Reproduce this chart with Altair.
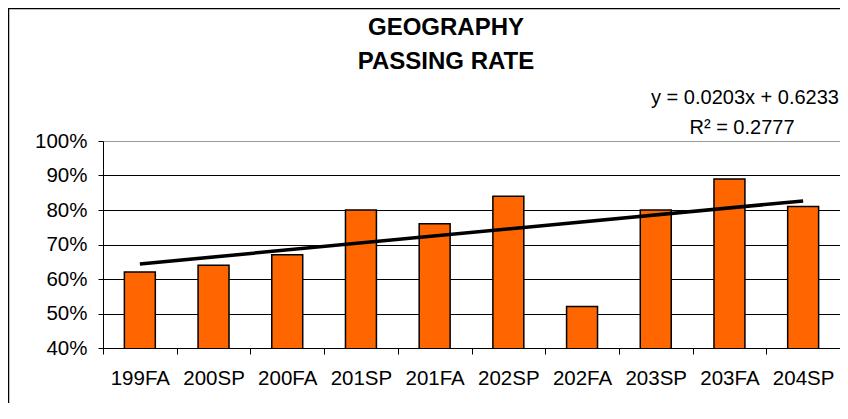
import json
import altair as alt
import pandas as pd

terms = ["199FA", "200SP", "200FA", "201SP", "201FA", "202SP", "202FA", "203SP", "203FA", "204SP"]
rates = [0.62, 0.64, 0.67, 0.80, 0.76, 0.84, 0.52, 0.80, 0.89, 0.81]
y_ticks = [0.4, 0.5, 0.6, 0.7, 0.8, 0.9, 1.0]
equation = "y = 0.0203x + 0.6233"
r_squared = "R\u00b2 = 0.2777"
title_lines = ["GEOGRAPHY", "PASSING RATE"]

df = pd.DataFrame({"term": terms, "rate": rates, "idx": list(range(1, len(terms) + 1))})
one = pd.DataFrame({"a": [0]})

FONT = "Liberation Sans"

x_enc = alt.X(
    "term:N",
    sort=terms,
    scale=alt.Scale(paddingInner=0, paddingOuter=0),
    axis=alt.Axis(
        title=None,
        labelAngle=0,
        labelFontSize=20.5,
        labelFont=FONT,
        labelColor="black",
        labelPadding=14,
        labelOverlap=False,
        tickBand="extent",
        tickSize=6,
        tickColor="black",
        domainColor="black",
        grid=False,
    ),
)
y_enc = alt.Y(
    "rate:Q",
    scale=alt.Scale(domain=[0.4, 1.0], zero=False, nice=False),
    axis=alt.Axis(
        title=None,
        values=y_ticks,
        format=".0%",
        labelFontSize=20.5,
        labelFont=FONT,
        labelColor="black",
        labelPadding=11,
        labelOverlap=False,
        tickSize=5,
        tickColor="black",
        domainColor="black",
        grid=True,
        gridColor=alt.condition("datum.value >= 0.999", alt.value("#999999"), alt.value("black")),
        gridWidth=1,
    ),
)

frame = alt.Chart(one).mark_rect(fill=None, stroke="black", strokeWidth=1.5, clip=False).encode(
    x=alt.value(-94.5), x2=alt.value(900), y=alt.value(-132.5), y2=alt.value(400)
)

bars = alt.Chart(df).mark_bar(
    width=alt.RelativeBandSize(0.42), color="#FF6600", stroke="black", strokeWidth=1.5, clip=True
).encode(x=x_enc, y=y_enc)

trend = (
    alt.Chart(df)
    .transform_regression("idx", "rate", method="linear")
    .transform_calculate(term=f"{json.dumps(terms)}[round(datum.idx) - 1]")
    .mark_line(color="black", strokeWidth=3.5)
    .encode(x=x_enc, y=y_enc)
)

title1 = alt.Chart(one).mark_text(
    text=title_lines[0], align="center", baseline="middle", fontSize=24, font=FONT,
    fontWeight="bold", color="black"
).encode(x=alt.value(343), y=alt.value(-113))

title2 = alt.Chart(one).mark_text(
    text=title_lines[1], align="center", baseline="middle", fontSize=24, font=FONT,
    fontWeight="bold", color="black"
).encode(x=alt.value(343), y=alt.value(-79.5))

eq_text = alt.Chart(one).mark_text(
    text=equation, align="right", baseline="middle", fontSize=20, font=FONT, color="black"
).encode(x=alt.value(736), y=alt.value(-43))

r2_text = alt.Chart(one).mark_text(
    text=r_squared, align="center", baseline="middle", fontSize=20, font=FONT, color="black"
).encode(x=alt.value(639), y=alt.value(-13))

chart = (
    alt.layer(frame, bars, trend, title1, title2, eq_text, r2_text)
    .properties(
        width=737,
        height=207,
        autosize=alt.AutoSizeParams(type="none"),
        padding={"left": 95, "top": 133, "right": 0, "bottom": 55},
    )
    .configure_view(stroke="#999999", strokeWidth=1.5)
    .configure(background="white")
)

chart.save("out.html", embed_options={"renderer": "svg", "actions": False})
